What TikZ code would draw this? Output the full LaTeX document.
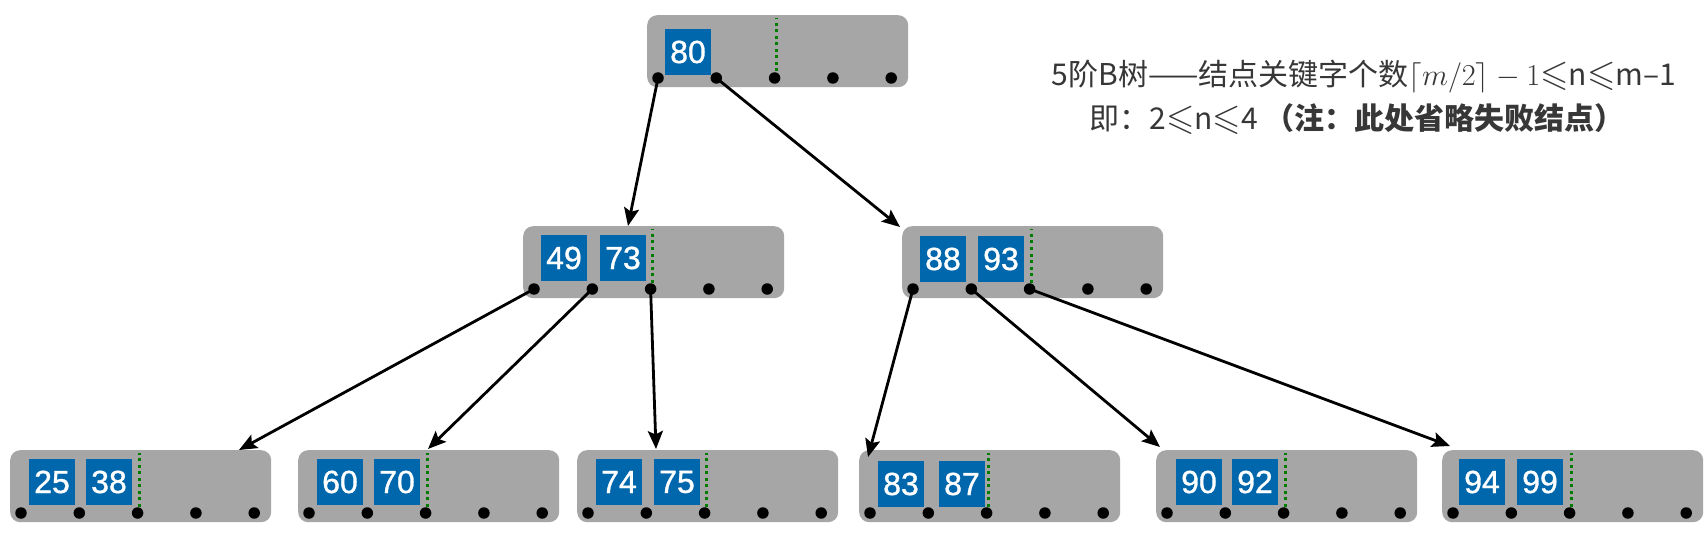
\documentclass[tikz,border=0pt]{standalone}
\usepackage{amssymb}
\usepackage{graphicx}
\usepackage{fontspec}
\setmainfont{Liberation Sans}
\newfontface\keyfont{Liberation Sans}[FakeBold=1]
\newfontfamily\cjk{Noto Sans CJK SC}
\usetikzlibrary{arrows.meta}
\definecolor{boxgray}{RGB}{166,166,166}
\definecolor{keyblue}{RGB}{0,103,172}
\definecolor{dotgreen}{RGB}{0,125,0}
\definecolor{txtgray}{RGB}{55,55,55}
\newcommand{\mth}[1]{\scalebox{1.22}{$#1$}}
\tikzset{
 bbox/.style={draw=none, fill=boxgray, rounded corners=10pt, minimum width=261pt, minimum height=72pt, inner sep=0pt, anchor=north west},
 keybox/.style={fill=keyblue, text=white, minimum width=46pt, minimum height=46pt, inner sep=0pt, font=\keyfont\fontsize{32}{32}\selectfont},
 ptr/.style={circle, fill=black, inner sep=0pt, minimum size=11.5pt},
 sepline/.style={dotgreen, line width=3pt, dash pattern=on 3pt off 3.5pt},
 arr/.style={line width=2.8pt, -{Stealth[length=18pt,width=15pt,inset=3.5pt]}},
 note/.style={text=txtgray, font=\cjk\fontsize{30}{30}\selectfont, anchor=base, inner sep=0pt}
}
\newcommand{\btnode}[4]{%
 \node[bbox] (#1) at (#2,#3) {};
 \draw[sepline] ({#2+129},{#3+63}) -- ++(0,-60);
 \foreach \i in {1,...,5} {\node[ptr] (#1d\i) at ({#2+11+58.3*(\i-1)},{#3+63}) {};}
 #4
}
\begin{document}
\begin{tikzpicture}[x=1pt,y=-1pt]
\fill[white] (0,0) rectangle (1708,548);
\useasboundingbox (0,0) rectangle (1708,548);

% root
\btnode{r}{647}{15}{\node[keybox] (rk1) at (688,52) {80};}
% level 2
\btnode{a}{523}{226}{\node[keybox] (ak1) at (564,258) {49}; \node[keybox] (ak2) at (623,258) {73};}
\btnode{b}{902}{226}{\node[keybox] (bk1) at (943,259) {88}; \node[keybox] (bk2) at (1001,259) {93};}
% level 3
\btnode{c1}{10}{450}{\node[keybox] (c1k1) at (52,482) {25}; \node[keybox] (c1k2) at (109,482) {38};}
\btnode{c2}{298}{450}{\node[keybox] (c2k1) at (340,482) {60}; \node[keybox] (c2k2) at (397,482) {70};}
\btnode{c3}{577}{450}{\node[keybox] (c3k1) at (619,482) {74}; \node[keybox] (c3k2) at (677,482) {75};}
\btnode{c4}{859}{450}{\node[keybox] (c4k1) at (901,484) {83}; \node[keybox] (c4k2) at (962,484) {87};}
\btnode{c5}{1156}{450}{\node[keybox] (c5k1) at (1199,482) {90}; \node[keybox] (c5k2) at (1255,482) {92};}
\btnode{c6}{1442}{450}{\node[keybox] (c6k1) at (1482,482) {94}; \node[keybox] (c6k2) at (1540,482) {99};}

% arrow targets
\coordinate (ta) at (628,226);
\coordinate (tb) at (900,227);
\coordinate (tc1) at (239,450);
\coordinate (tc2) at (428,449);
\coordinate (tc3) at (656,449);
\coordinate (tc4) at (868,457);
\coordinate (tc5) at (1160,447);
\coordinate (tc6) at (1450,446);

\draw[arr] (rd1.center) -- (ta);
\draw[arr] (rd2.center) -- (tb);
\draw[arr] (ad1.center) -- (tc1);
\draw[arr] (ad2.center) -- (tc2);
\draw[arr] (ad3.center) -- (tc3);
\draw[arr] (bd1.center) -- (tc4);
\draw[arr] (bd2.center) -- (tc5);
\draw[arr] (bd3.center) -- (tc6);

% note
\node[note] (t1) at (1364,86) {5阶B树——结点关键字个数\mth{\lceil m/2\rceil - 1}\mth{\leqslant}n\mth{\leqslant}m–1};
\node[note] (t2) at (1357,130) {即：2\mth{\leqslant}n\mth{\leqslant}4 \textbf{（注：此处省略失败结点）}};
\end{tikzpicture}
\end{document}
